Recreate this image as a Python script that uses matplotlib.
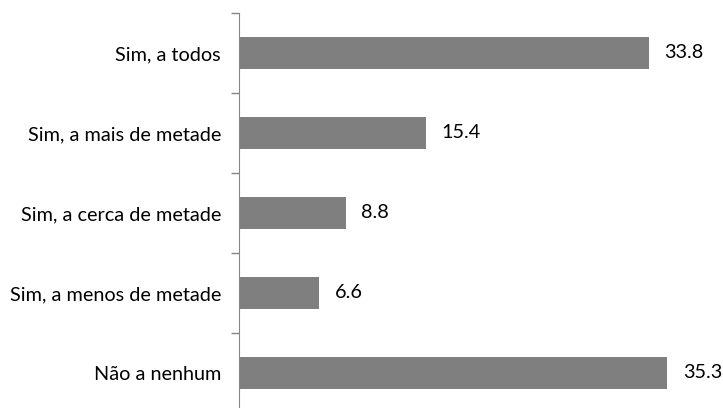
import numpy as np
import matplotlib.pyplot as plt

categorias = ["Sim, a todos", "Sim, a mais de metade", "Sim, a cerca de metade",
              "Sim, a menos de metade", "Não a nenhum"]
valores = [33.8, 15.4, 8.8, 6.6, 35.3]

plt.rcParams['font.family'] = ['Lato', 'DejaVu Sans']

fig = plt.figure(figsize=(7.23, 4.08), dpi=100)
# axis spans 400 px vertically starting 13 px from top, runs past bottom edge
ax = fig.add_axes([239/723, -5/408, 485/723, 400/408])

y = np.arange(len(categorias))
ax.barh(y, valores, height=0.4, color="#7f7f7f")
ax.set_ylim(len(categorias) - 0.5, -0.5)
ax.set_xlim(0, 40)

for yi, v in zip(y, valores):
    ax.text(v + 1.3, yi, f"{v:.1f}", va="center", ha="left", fontsize=14.3, color="black")

ax.set_yticks(y)
ax.set_yticklabels(categorias, fontsize=14.3)
ax.tick_params(axis="y", which="major", length=0, pad=13)
ax.set_yticks(np.arange(-0.5, len(categorias) + 0.5, 1), minor=True)
ax.tick_params(axis="y", which="minor", length=6, color="#868686", width=1)
ax.set_xticks([])

for s in ["top", "right", "bottom"]:
    ax.spines[s].set_visible(False)
ax.spines["left"].set_color("#868686")

fig.savefig("out.png", dpi=100)
